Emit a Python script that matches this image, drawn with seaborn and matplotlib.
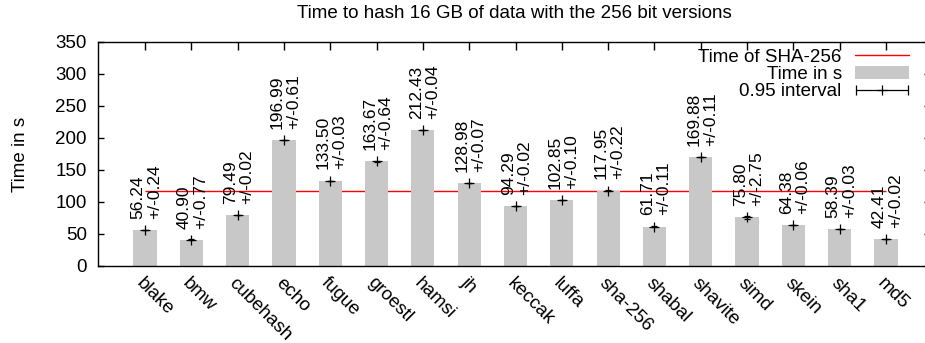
"""Time to hash 16 GB of data, 256 bit hash versions."""

import matplotlib
matplotlib.use("Agg")
import matplotlib.pyplot as plt
import seaborn as sns
from matplotlib.collections import LineCollection
from matplotlib.container import ErrorbarContainer
from matplotlib.legend_handler import HandlerErrorbar
from matplotlib.lines import Line2D
from matplotlib.patches import Patch

algorithms = ["blake", "bmw", "cubehash", "echo", "fugue", "groestl", "hamsi", "jh",
              "keccak", "luffa", "sha-256", "shabal", "shavite", "simd", "skein",
              "sha1", "md5"]
times = [56.24, 40.90, 79.49, 196.99, 133.50, 163.67, 212.43, 128.98,
         94.29, 102.85, 117.95, 61.71, 169.88, 75.80, 64.38, 58.39, 42.41]
intervals = [0.24, 0.77, 0.02, 0.61, 0.03, 0.64, 0.04, 0.07,
             0.02, 0.10, 0.22, 0.11, 0.11, 2.75, 0.06, 0.03, 0.02]
sha256_time = times[algorithms.index("sha-256")]

sns.set_style("ticks")
plt.rcParams["font.family"] = ["Liberation Sans", "DejaVu Sans"]
plt.rcParams["font.size"] = 13.5
plt.rcParams["text.color"] = "black"
plt.rcParams["axes.labelcolor"] = "black"
plt.rcParams["xtick.color"] = "black"
plt.rcParams["ytick.color"] = "black"

BAR_GRAY = "#c8c8c8"

fig, ax = plt.subplots(figsize=(9.25, 3.43), dpi=100)
fig.subplots_adjust(left=98 / 925, right=930 / 925, top=1 - 42 / 343, bottom=1 - 266 / 343)

positions = list(range(len(algorithms)))

# reference line for sha-256
ax.hlines(sha256_time, positions[0], positions[-1], color="#ff0000", lw=1, zorder=1)

sns.barplot(x=algorithms, y=times, color=BAR_GRAY, saturation=1, width=0.5,
            linewidth=0, ax=ax, zorder=2)

ax.errorbar(positions, times, yerr=intervals, fmt="+", color="black", ms=7, mew=0.9,
            elinewidth=0.9, capsize=2, zorder=3)

for x, t, e in zip(positions, times, intervals):
    ax.annotate(f"{t:.2f}\n+/-{e:.2f}", (x, t), xytext=(1, 8), textcoords="offset points",
                rotation=90, ha="center", va="bottom", multialignment="left",
                fontsize=12.5, linespacing=1.1, zorder=4)

ax.set_xlim(-1.015, 16.95)
ax.set_ylim(0, 350)
ax.set_yticks(range(0, 351, 50))
ax.set_ylabel("Time in s")
ax.yaxis.set_label_coords(-0.083, 0.5)
ax.set_xlabel("")
ax.set_title("Time to hash 16 GB of data with the 256 bit versions", pad=17, fontsize=13.5)

ax.set_xticks(positions)
ax.set_xticklabels(algorithms, rotation=-45, ha="left", va="top", rotation_mode="anchor")
ax.tick_params(axis="x", which="major", direction="in", bottom=False, top=True,
               labelbottom=True, labeltop=False, length=6, width=1, pad=6)
ax.tick_params(axis="y", which="major", direction="in", left=True, right=True,
               length=4, width=1, pad=8)

for spine in ax.spines.values():
    spine.set_visible(True)
    spine.set_color("black")
    spine.set_linewidth(1)

# legend proxies
line_h = Line2D([], [], color="#ff0000", lw=1)
bar_h = Patch(facecolor=BAR_GRAY, edgecolor="none")
err_h = ErrorbarContainer(
    (Line2D([], [], marker="+", ls="none", color="black", ms=7, mew=0.9),
     (Line2D([], [], marker="|", ls="none", color="black", ms=7, mew=0.9),),
     (LineCollection([], colors="black", linewidths=0.9),)),
    has_xerr=True, has_yerr=False)

ax.legend([line_h, bar_h, err_h], ["Time of SHA-256", "Time in s", "0.95 interval"],
          loc="upper right", bbox_to_anchor=(0.975, 0.97), borderaxespad=0, borderpad=0,
          frameon=False, markerfirst=False, handlelength=2.9, handletextpad=0.7,
          labelspacing=0.0, fontsize=13.5,
          handler_map={ErrorbarContainer: HandlerErrorbar(xerr_size=1.4)})

fig.savefig("out.png", dpi=100)
